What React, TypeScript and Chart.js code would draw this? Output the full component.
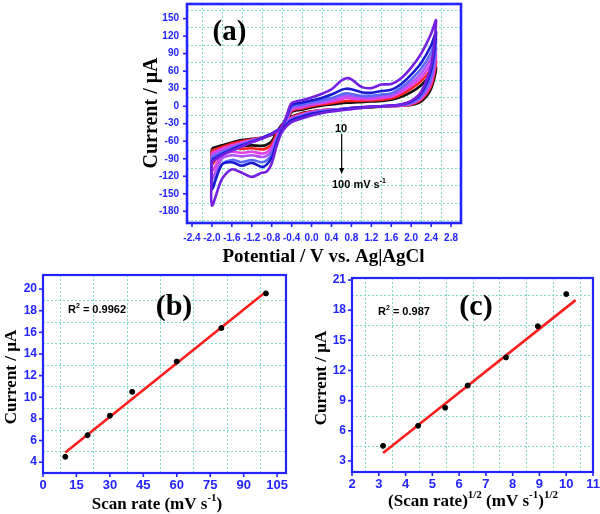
import React, { useEffect, useRef } from 'react';
import { Chart, registerables } from 'chart.js';
Chart.register(...registerables);

// ---------- Panel (a): cyclic voltammograms ----------
const potentials = [-2.0, -1.8, -1.6, -1.4, -1.2, -1.0, -0.9, -0.8, -0.7, -0.6, -0.5, -0.4, -0.2, 0.0, 0.2, 0.4, 0.6, 0.7, 0.8, 1.0, 1.2, 1.4, 1.6, 1.8, 2.0, 2.2, 2.4, 2.5];

const cv10Fwd = [-72, -67, -62, -58, -56, -54, -52, -49, -45, -40, -28, -10, -6, -2, 1, 3, 5, 6, 6, 7, 8, 9, 11, 16, 24, 36, 54, 66];
const cv10Rev = [-92, -72, -68, -68, -67, -68, -66, -60, -45, -32, -25, -18, -12, -9, -7, -6, -5, -4, -3, -3, -2, -1, 0, 1, 2, 8, 30, 66];
const cv20Fwd = [-76, -70, -64, -60, -57, -54, -51, -48, -44, -39, -26, -8, -4, 0, 3, 5, 8, 9, 9, 9, 10, 11, 13, 20, 30, 43, 63, 78];
const cv20Rev = [-100, -76, -72, -73, -72, -74, -72, -65, -48, -34, -26, -19, -13, -9, -7, -6, -5, -4, -3, -2, -1, -1, 0, 1, 3, 11, 35, 78];
const cv30Fwd = [-80, -73, -67, -62, -58, -54, -51, -47, -43, -38, -24, -6, -2, 2, 5, 8, 12, 14, 13, 12, 12, 14, 16, 24, 35, 49, 72, 88];
const cv30Rev = [-112, -84, -78, -80, -78, -81, -79, -70, -52, -36, -27, -20, -14, -10, -7, -6, -5, -4, -3, -2, -1, 0, 0, 1, 4, 13, 40, 88];
const cv40Fwd = [-84, -76, -70, -64, -59, -55, -51, -47, -42, -37, -22, -4, 0, 4, 7, 11, 16, 18, 17, 15, 15, 17, 19, 28, 40, 56, 82, 100];
const cv40Rev = [-125, -90, -84, -86, -84, -87, -85, -76, -55, -38, -28, -21, -15, -11, -8, -6, -5, -4, -3, -2, -1, 0, 0, 2, 5, 15, 45, 100];
const cv60Fwd = [-88, -79, -72, -66, -60, -55, -51, -47, -42, -36, -20, -1, 3, 7, 10, 14, 20, 22, 21, 18, 18, 20, 22, 32, 46, 64, 92, 115];
const cv60Rev = [-138, -100, -92, -96, -92, -96, -93, -82, -58, -40, -30, -23, -17, -12, -9, -7, -5, -4, -3, -2, -1, 0, 1, 2, 6, 18, 52, 115];
const cv80Fwd = [-92, -82, -74, -67, -61, -55, -51, -47, -42, -36, -18, 2, 6, 10, 14, 20, 28, 30, 29, 24, 23, 26, 28, 38, 54, 74, 104, 127];
const cv80Rev = [-142, -100, -96, -102, -97, -104, -100, -88, -62, -42, -31, -24, -18, -13, -10, -8, -6, -5, -4, -2, -1, 0, 1, 3, 8, 22, 62, 127];
const cv100Fwd = [-95, -84, -76, -69, -62, -56, -52, -48, -43, -36, -16, 5, 10, 15, 21, 29, 44, 48, 46, 33, 31, 37, 38, 48, 66, 90, 124, 147];
const cv100Rev = [-170, -125, -108, -114, -121, -114, -112, -98, -68, -45, -34, -27, -21, -16, -12, -9, -7, -6, -5, -3, -1, 0, 1, 3, 9, 25, 70, 147];

const cvLabels = ['10', '20', '30', '40', '60', '80', '100'];
const cvColors = ['#111111', '#ff1f1f', '#e040e8', '#b050ff', '#5a68ff', '#1a1ad0', '#7420e0'];
const cvForward = [cv10Fwd, cv20Fwd, cv30Fwd, cv40Fwd, cv60Fwd, cv80Fwd, cv100Fwd];
const cvReverse = [cv10Rev, cv20Rev, cv30Rev, cv40Rev, cv60Rev, cv80Rev, cv100Rev];

const ticksAX = [-2.4, -2.0, -1.6, -1.2, -0.8, -0.4, 0.0, 0.4, 0.8, 1.2, 1.6, 2.0, 2.4, 2.8];
const ticksAY = [-180, -150, -120, -90, -60, -30, 0, 30, 60, 90, 120, 150];

// ---------- Panels (b) and (c) ----------
const scanRates = [10, 20, 30, 40, 60, 80, 100];
const sqrtScanRates = [3.16, 4.47, 5.48, 6.32, 7.75, 8.94, 10.0];
const peakCurrents = [4.5, 6.5, 8.3, 10.5, 13.3, 16.4, 19.6];
const fitBx = [10, 100];
const fitBy = [4.9, 19.75];
const fitCx = [3.16, 10.35];
const fitCy = [3.8, 19.0];

const ticksBX = [0, 15, 30, 45, 60, 75, 90, 105];
const ticksBY = [4, 6, 8, 10, 12, 14, 16, 18, 20];
const ticksCX = [2, 3, 4, 5, 6, 7, 8, 9, 10, 11];
const ticksCY = [3, 6, 9, 12, 15, 18, 21];

// ---------- styling ----------
const BLUE = '#2424ff';
const GRID = '#7fdcc0';
const SANS = '"Liberation Sans", Arial, sans-serif';
const SERIF = '"Liberation Serif", "Times New Roman", serif';

type Part = { t: string; sup?: boolean };
type TextItem = { parts: Part[]; x: number; y: number; size: number; family: string; weight?: string; align?: 'left' | 'center'; rotate?: boolean };

function midGrid(ticks: number[], min: number, max: number) {
  const step = ticks[1] - ticks[0];
  const out: number[] = [];
  for (let i = -1; i < ticks.length; i++) {
    const v = ticks[0] + (i + 0.5) * step;
    if (v > min + step * 0.15 && v < max - step * 0.15) out.push(v);
  }
  return out;
}

function drawRich(ctx: CanvasRenderingContext2D, it: TextItem) {
  const w = it.weight ?? 'bold';
  const fontFor = (p: Part) => `${w} ${p.sup ? Math.round(it.size * 0.62) : it.size}px ${it.family}`;
  ctx.save();
  ctx.translate(it.x, it.y);
  if (it.rotate) ctx.rotate(-Math.PI / 2);
  let total = 0;
  const widths = it.parts.map((p) => {
    ctx.font = fontFor(p);
    const m = ctx.measureText(p.t).width;
    total += m;
    return m;
  });
  let x = it.align === 'left' ? 0 : -total / 2;
  const base = it.size * 0.33;
  ctx.fillStyle = '#000';
  ctx.textBaseline = 'alphabetic';
  ctx.textAlign = 'left';
  it.parts.forEach((p, i) => {
    ctx.font = fontFor(p);
    ctx.fillText(p.t, x, p.sup ? base - it.size * 0.42 : base);
    x += widths[i];
  });
  ctx.restore();
}

type DecorCfg = {
  gridX: number[]; gridY: number[]; tickX: number[]; tickY: number[];
  tickLen: number; borderWidth: number; texts: TextItem[];
  arrow?: { x: number; y1: number; y2: number };
};

function makeDecor(cfg: DecorCfg) {
  return {
    id: 'decor',
    beforeDatasetsDraw(chart: any) {
      const { ctx, chartArea: a, scales } = chart;
      ctx.save();
      ctx.strokeStyle = GRID;
      ctx.lineWidth = 1;
      ctx.setLineDash([2, 2]);
      cfg.gridX.forEach((v) => {
        const px = Math.round(scales.x.getPixelForValue(v)) + 0.5;
        ctx.beginPath(); ctx.moveTo(px, a.top); ctx.lineTo(px, a.bottom); ctx.stroke();
      });
      cfg.gridY.forEach((v) => {
        const py = Math.round(scales.y.getPixelForValue(v)) + 0.5;
        ctx.beginPath(); ctx.moveTo(a.left, py); ctx.lineTo(a.right, py); ctx.stroke();
      });
      ctx.restore();
    },
    afterDraw(chart: any) {
      const { ctx, chartArea: a, scales } = chart;
      ctx.save();
      ctx.strokeStyle = BLUE;
      ctx.lineWidth = 1.6;
      cfg.tickX.forEach((v) => {
        const px = scales.x.getPixelForValue(v);
        ctx.beginPath(); ctx.moveTo(px, a.bottom); ctx.lineTo(px, a.bottom + cfg.tickLen); ctx.stroke();
      });
      cfg.tickY.forEach((v) => {
        const py = scales.y.getPixelForValue(v);
        ctx.beginPath(); ctx.moveTo(a.left - cfg.tickLen, py); ctx.lineTo(a.left, py); ctx.stroke();
      });
      ctx.lineWidth = cfg.borderWidth;
      ctx.strokeRect(a.left, a.top, a.right - a.left, a.bottom - a.top);
      ctx.restore();
      if (cfg.arrow) {
        const ar = cfg.arrow;
        ctx.save();
        ctx.strokeStyle = '#000';
        ctx.fillStyle = '#000';
        ctx.lineWidth = 1.2;
        ctx.beginPath(); ctx.moveTo(ar.x, ar.y1); ctx.lineTo(ar.x, ar.y2 - 5); ctx.stroke();
        ctx.beginPath(); ctx.moveTo(ar.x - 2.5, ar.y2 - 6); ctx.lineTo(ar.x + 2.5, ar.y2 - 6); ctx.lineTo(ar.x, ar.y2); ctx.closePath(); ctx.fill();
        ctx.restore();
      }
      cfg.texts.forEach((t) => drawRich(ctx, t));
    },
  };
}

function axis(min: number, max: number, ticks: number[], fontSize: number, padding: number, size: number, isX: boolean, fmt: (v: number) => string) {
  return {
    type: 'linear',
    min,
    max,
    afterBuildTicks: (s: any) => { s.ticks = ticks.map((v) => ({ value: v })); },
    afterFit: (s: any) => {
      if (isX) s.height = size; else s.width = size;
      s.paddingLeft = 0; s.paddingRight = 0; s.paddingTop = 0; s.paddingBottom = 0;
    },
    grid: { display: false, drawTicks: false },
    border: { display: false },
    ticks: {
      color: BLUE,
      font: { family: SANS, weight: 'bold', size: fontSize },
      padding,
      autoSkip: false,
      maxRotation: 0,
      minRotation: 0,
      callback: (v: any) => fmt(Number(v)),
    },
  };
}

function buildA() {
  const datasets = cvLabels.map((lab, k) => {
    const fwd = cvForward[k];
    const rev = cvReverse[k];
    const pts = potentials.map((e, i) => ({ x: e, y: fwd[i] }));
    for (let i = potentials.length - 2; i >= 0; i--) pts.push({ x: potentials[i], y: rev[i] });
    pts.push({ x: potentials[0], y: fwd[0] });
    return {
      label: lab + ' mV/s', data: pts, borderColor: cvColors[k], backgroundColor: cvColors[k],
      borderWidth: 2.6, pointRadius: 0, tension: 0.3, fill: false, order: cvLabels.length - k,
    };
  });
  return {
    type: 'line',
    data: { datasets },
    options: {
      animation: false,
      responsive: false,
      plugins: { legend: { display: false }, tooltip: { enabled: false } },
      layout: { padding: { top: 4, right: 19, left: 0, bottom: 0 } },
      scales: {
        x: axis(-2.5, 3.0, ticksAX, 10, 9, 47, true, (v) => v.toFixed(1)),
        y: axis(-200, 175, ticksAY, 10, 8, 87, false, (v) => String(v)),
      },
    },
    plugins: [makeDecor({
      gridX: midGrid(ticksAX, -2.5, 3.0), gridY: midGrid(ticksAY, -200, 175),
      tickX: ticksAX, tickY: ticksAY, tickLen: 4, borderWidth: 2.6,
      arrow: { x: 241.7, y1: 134, y2: 174 },
      texts: [
        { parts: [{ t: 'Current / μA' }], x: 50, y: 113, size: 20, family: SERIF, rotate: true },
        { parts: [{ t: 'Potential / V vs. Ag|AgCl' }], x: 223.5, y: 256, size: 19, family: SERIF },
        { parts: [{ t: '(a)' }], x: 129.5, y: 30, size: 29, family: SERIF },
        { parts: [{ t: '10' }], x: 241, y: 128, size: 11, family: SANS },
        { parts: [{ t: '100 mV s' }, { t: '-1', sup: true }], x: 232, y: 184, size: 11, family: SANS, align: 'left' },
      ],
    })],
  };
}

function buildFit(opts: {
  xs: number[]; ys: number[]; fx: number[]; fy: number[];
  xmin: number; xmax: number; ymin: number; ymax: number;
  tx: number[]; ty: number[]; padTop: number; padRight: number; yWidth: number; xHeight: number;
  texts: TextItem[];
}) {
  return {
    type: 'scatter',
    data: {
      datasets: [
        { label: 'fit', data: opts.fx.map((x, i) => ({ x, y: opts.fy[i] })), showLine: true, borderColor: '#ff1e1e', borderWidth: 2.6, pointRadius: 0, order: 2 },
        { label: 'data', data: opts.xs.map((x, i) => ({ x, y: opts.ys[i] })), backgroundColor: '#000', borderColor: '#000', pointRadius: 2.5, showLine: false, order: 1 },
      ],
    },
    options: {
      animation: false,
      responsive: false,
      plugins: { legend: { display: false }, tooltip: { enabled: false } },
      layout: { padding: { top: opts.padTop, right: opts.padRight, left: 0, bottom: 0 } },
      scales: {
        x: axis(opts.xmin, opts.xmax, opts.tx, 13, 5, opts.xHeight, true, (v) => String(v)),
        y: axis(opts.ymin, opts.ymax, opts.ty, 12, 6, opts.yWidth, false, (v) => String(v)),
      },
    },
    plugins: [makeDecor({
      gridX: midGrid(opts.tx, opts.xmin, opts.xmax), gridY: midGrid(opts.ty, opts.ymin, opts.ymax),
      tickX: opts.tx, tickY: opts.ty, tickLen: 4, borderWidth: 2.2, texts: opts.texts,
    })],
  };
}

function buildB() {
  return buildFit({
    xs: scanRates, ys: peakCurrents, fx: fitBx, fy: fitBy,
    xmin: 0, xmax: 109, ymin: 3, ymax: 21.3, tx: ticksBX, ty: ticksBY,
    padTop: 5, padRight: 14, yWidth: 43, xHeight: 41,
    texts: [
      { parts: [{ t: 'Current / μA' }], x: 10, y: 107, size: 17, family: SERIF, rotate: true },
      { parts: [{ t: 'Scan rate (mV s' }, { t: '-1', sup: true }, { t: ')' }], x: 157, y: 233, size: 17, family: SERIF },
      { parts: [{ t: '(b)' }], x: 174, y: 35, size: 30, family: SERIF },
      { parts: [{ t: 'R' }, { t: '2', sup: true }, { t: ' = 0.9962' }], x: 68, y: 39, size: 11, family: SANS, align: 'left' },
    ],
  });
}

function buildC() {
  return buildFit({
    xs: sqrtScanRates, ys: peakCurrents, fx: fitCx, fy: fitCy,
    xmin: 2, xmax: 11, ymin: 1.9, ymax: 21.2, tx: ticksCX, ty: ticksCY,
    padTop: 8, padRight: 7, yWidth: 52, xHeight: 42,
    texts: [
      { parts: [{ t: 'Current / μA' }], x: 20, y: 108, size: 17, family: SERIF, rotate: true },
      { parts: [{ t: '(Scan rate)' }, { t: '1/2', sup: true }, { t: ' (mV s' }, { t: '-1', sup: true }, { t: ')' }, { t: '1/2', sup: true }], x: 173, y: 230, size: 17, family: SERIF },
      { parts: [{ t: '(c)' }], x: 176, y: 35, size: 30, family: SERIF },
      { parts: [{ t: 'R' }, { t: '2', sup: true }, { t: ' = 0.987' }], x: 78, y: 41, size: 11, family: SANS, align: 'left' },
    ],
  });
}

function Panel(props: { left: number; top: number; width: number; height: number; build: () => any }) {
  const ref = useRef<HTMLCanvasElement>(null);
  useEffect(() => {
    const chart = new Chart(ref.current as HTMLCanvasElement, props.build());
    return () => chart.destroy();
  }, []);
  return (
    <canvas
      ref={ref}
      width={props.width}
      height={props.height}
      style={{ position: 'absolute', left: props.left, top: props.top, width: props.width, height: props.height, display: 'block' }}
    />
  );
}

export default function App() {
  return (
    <div style={{ position: 'fixed', left: 0, top: 0, width: 600, height: 514, background: '#fff', overflow: 'hidden' }}>
      <Panel left={100} top={0} width={380} height={270} build={buildA} />
      <Panel left={0} top={270} width={300} height={244} build={buildB} />
      <Panel left={300} top={270} width={300} height={244} build={buildC} />
    </div>
  );
}
